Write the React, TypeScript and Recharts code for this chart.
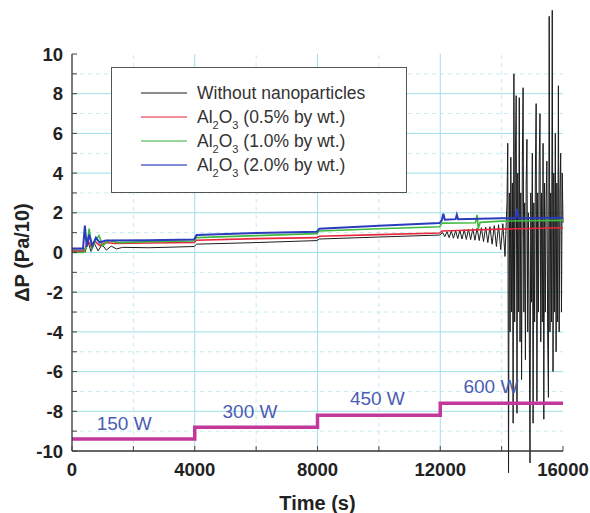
import { LineChart, Line, XAxis, YAxis, ReferenceLine, ReferenceDot, Legend } from "recharts";

const FONT = '"Liberation Sans", Arial, sans-serif';

// axis ticks
const xTicks = [0, 2000, 4000, 6000, 8000, 10000, 12000, 14000, 16000];
const yTicks = [-10, -9, -8, -7, -6, -5, -4, -3, -2, -1, 0, 1, 2, 3, 4, 5, 6, 7, 8, 9, 10];

const seriesNames = [
  "Without nanoparticles",
  "Al2O3 (0.5% by wt.)",
  "Al2O3 (1.0% by wt.)",
  "Al2O3 (2.0% by wt.)",
];

// without nanoparticles, steady part
const blackT = [
  0, 350, 430, 520, 620, 730, 850, 980, 1120, 1280, 1450, 1650, 2500, 3980, 4060, 6000, 7980, 8060, 10000, 11980,
  12080, 12150, 12220, 12290, 12360, 12430, 12500, 12570, 12640, 12710, 12780, 12850, 12920, 12990, 13060, 13130,
  13200, 13270, 13340, 13410, 13480, 13550, 13620, 13690, 13760, 13830, 13900, 13970, 14040, 14110, 14150,
];
const blackV = [
  0.12, 0.12, 0.02, 0.55, 0.05, 0.45, 0.08, 0.4, 0.12, 0.32, 0.18, 0.26, 0.24, 0.3, 0.42, 0.5, 0.6, 0.68, 0.78, 0.88,
  1.0, 0.8, 1.05, 0.75, 1.08, 0.72, 1.1, 0.7, 1.12, 0.68, 1.15, 0.66, 1.18, 0.65, 1.2, 0.62,
  1.22, 0.6, 1.25, 0.55, 1.28, 0.5, 1.3, 0.42, 1.35, 0.3, 1.4, 0.15, 1.45, -0.2, 1.5,
];
// without nanoparticles, unstable part
const blackTailT = [
  14175, 14200, 14225, 14250, 14275, 14300, 14325, 14350, 14375, 14400,
  14425, 14450, 14475, 14500, 14525, 14550, 14575, 14600, 14625, 14650,
  14675, 14700, 14725, 14750, 14775, 14800, 14825, 14850, 14875, 14900,
  14925, 14950, 14975, 15000, 15025, 15050, 15075, 15100, 15125, 15150,
  15175, 15200, 15225, 15250, 15275, 15300, 15325, 15350, 15375, 15400,
  15425, 15450, 15475, 15500, 15525, 15550, 15575, 15600, 15625, 15650,
  15675, 15700, 15725, 15750, 15775, 15800, 15825, 15850, 15875, 15900,
  15925, 15950, 15975, 16000,
];
const blackTailV = [
  2.5, 5.5, -11.1, 3.0, -4.0, 4.8, -3.0, 3.5, -8.6, 9.0,
  -3.5, 5.0, 7.9, -8.1, 4.0, -3.0, 7.8, -4.5, 3.0, -6.4,
  4.5, 8.3, -3.0, 2.5, -5.4, 3.5, 5.7, -4.0, 2.0, -3.5,
  -10.6, 3.0, -2.5, 5.0, -8.6, 2.5, -3.5, 4.0, 7.5, -7.5,
  3.0, -3.0, 4.5, 7.0, -4.5, 3.0, -3.5, 5.5, -8.4, 3.5,
  -3.0, 2.5, 4.6, -4.0, -7.3, 11.9, -4.0, 3.0, -3.5, 12.2,
  -6.0, 4.0, -3.0, 6.0, -5.0, 3.5, -3.5, 8.4, -4.0, 3.0,
  5.0, -3.0, 4.0, 1.5,
];

// 0.5 % by wt.
const redT = [0, 350, 430, 520, 640, 760, 900, 1100, 1400, 2500, 3980, 4060, 6000, 7980, 8060, 10000, 11980, 12060, 14000, 16000];
const redV = [0.05, 0.05, 0.2, 0.6, 0.25, 0.55, 0.35, 0.5, 0.45, 0.48, 0.5, 0.62, 0.7, 0.75, 0.82, 0.9, 0.98, 1.08, 1.18, 1.25];

// 1.0 % by wt.
const greenT = [0, 380, 480, 560, 650, 760, 880, 1000, 1200, 1500, 2500, 3980, 4060, 6000, 7980, 8060, 10000, 11980, 12060, 13150, 13200, 13240, 13300, 14000, 16000];
const greenV = [0.0, 0.0, 0.3, 1.2, 0.2, 0.6, 0.85, 0.35, 0.6, 0.5, 0.55, 0.58, 0.75, 0.85, 0.95, 1.08, 1.2, 1.3, 1.48, 1.5, 1.9, 1.2, 1.52, 1.58, 1.62];

// 2.0 % by wt.
const blueT = [0, 360, 420, 480, 560, 660, 780, 900, 1100, 2500, 3980, 4060, 6000, 7980, 8060, 10000, 11980, 12050, 12100, 12150, 12500, 12540, 12580, 14000, 14450, 14500, 14550, 16000];
const blueV = [0.2, 0.2, 1.35, 0.3, 0.9, 0.35, 0.75, 0.5, 0.6, 0.62, 0.65, 0.88, 0.98, 1.05, 1.2, 1.35, 1.48, 1.62, 1.95, 1.65, 1.68, 1.9, 1.68, 1.72, 1.72, 2.2, 1.72, 1.75];

// heater power steps
const powerT = [0, 4000, 8000, 12000, 16000];
const powerV = [-9.4, -8.8, -8.2, -7.6, -7.6];
const powerLabels = ["150 W", "300 W", "450 W", "600 W"];
const powerLabelT = [1700, 5800, 9950, 13650];
const powerLabelV = [-8.6, -8.0, -7.35, -6.75];

const majorY = [-8, -6, -4, -2, 0, 2, 4, 6, 8];
const minorY = [-9, -7, -5, -3, -1, 1, 3, 5, 7, 9];
const majorX = [4000, 8000, 12000];
const minorX = [2000, 6000, 10000, 14000];

const toData = (t: number[], v: number[]) => t.map((x, i) => ({ t: x, v: v[i] }));

const seriesData = [
  toData(blackT.concat(blackTailT), blackV.concat(blackTailV)),
  toData(redT, redV),
  toData(greenT, greenV),
  toData(blueT, blueV),
];
const seriesColors = ["#1c1c1c", "#e8283c", "#3dba3d", "#2b3bbd"];
const legendColors = ["#666", "#f06878", "#78c878", "#5a66c8"];
const seriesWidths = [1, 1.6, 1.6, 2];

function LeftTick({ x, y, payload }: any) {
  const ax = x + 9;
  const major = payload.value % 2 === 0;
  return (
    <g>
      <line x1={ax} x2={ax + 5} y1={y} y2={y} stroke="#444" />
      {major && (
        <text x={x} y={y} dy="0.36em" textAnchor="end" fontSize={18.5} fontWeight={700} fill="#222" fontFamily={FONT}>
          {payload.value}
        </text>
      )}
    </g>
  );
}

function RightTick({ x, y }: any) {
  return <line x1={x - 5} x2={x} y1={y} y2={y} stroke="#444" />;
}

function BottomTick({ x, y, payload }: any) {
  const ay = y - 12;
  const major = payload.value % 4000 === 0;
  return (
    <g>
      <line x1={x} x2={x} y1={ay} y2={ay - 5} stroke="#444" />
      {major && (
        <text x={x} y={y} dy="0.71em" textAnchor="middle" fontSize={18.5} fontWeight={700} fill="#222" fontFamily={FONT}>
          {payload.value}
        </text>
      )}
    </g>
  );
}

function renderName(name: string) {
  const parts = name.split("Al2O3");
  if (parts.length === 1) return name;
  const sub = { fontSize: 11, position: "relative" as const, top: 6, lineHeight: 0 };
  return (
    <>
      Al<span style={sub}>2</span>O<span style={sub}>3</span>
      {parts[1]}
    </>
  );
}

function LegendBox() {
  return (
    <div
      style={{
        width: 296,
        height: 126,
        border: "1px solid #555",
        background: "#fff",
        boxSizing: "border-box",
        paddingTop: 13,
        fontFamily: FONT,
        fontSize: 17.5,
        color: "#333",
      }}
    >
      {seriesNames.map((name, i) => (
        <div key={name} style={{ display: "flex", alignItems: "center", height: 24, whiteSpace: "nowrap" }}>
          <svg width={46} height={4} style={{ marginLeft: 29, marginRight: 10, display: "block" }}>
            <line x1={0} x2={46} y1={2} y2={2} stroke={legendColors[i]} strokeWidth={1.5} />
          </svg>
          <span>{renderName(name)}</span>
        </div>
      ))}
    </div>
  );
}

export default function App() {
  return (
    <div style={{ position: "absolute", left: 0, top: 0 }}>
      <style>{`.unclipped, .unclipped * { clip-path: none !important; }`}</style>
      <LineChart width={590} height={513} margin={{ top: 54, right: 27, bottom: 0, left: 0 }} style={{ fontFamily: FONT }}>
        <XAxis
          dataKey="t"
          type="number"
          domain={[0, 16000]}
          ticks={xTicks}
          interval={0}
          allowDataOverflow
          tickSize={0}
          tickMargin={12}
          height={62}
          axisLine={{ stroke: "#333", strokeWidth: 1.3 }}
          tick={<BottomTick />}
          label={{ value: "Time (s)", position: "insideBottom", offset: 3, style: { fontSize: 20, fontWeight: 700, fill: "#222" } }}
        />
        <XAxis xAxisId="top" orientation="top" type="number" domain={[0, 16000]} allowDataOverflow height={0} tick={false} tickLine={false} axisLine={{ stroke: "#333", strokeWidth: 1.3 }} />
        <YAxis
          type="number"
          domain={[-10, 10]}
          ticks={yTicks}
          interval={0}
          allowDataOverflow
          width={72}
          tickSize={0}
          tickMargin={9}
          axisLine={{ stroke: "#333", strokeWidth: 1.3 }}
          tick={<LeftTick />}
          label={{ value: "ΔP (Pa/10)", angle: -90, position: "insideLeft", offset: 22, style: { textAnchor: "middle", fontSize: 20, fontWeight: 700, fill: "#222" } }}
        />
        <YAxis
          yAxisId="right"
          orientation="right"
          type="number"
          domain={[-10, 10]}
          ticks={yTicks}
          interval={0}
          allowDataOverflow
          width={0}
          tickSize={0}
          tickMargin={0}
          axisLine={{ stroke: "#333", strokeWidth: 1.3 }}
          tick={<RightTick />}
        />

        {minorY.map((v) => (
          <ReferenceLine key={`my${v}`} y={v} stroke="#c4ecf1" strokeDasharray="4 4" />
        ))}
        {minorX.map((v) => (
          <ReferenceLine key={`mx${v}`} x={v} stroke="#c4ecf1" strokeDasharray="4 4" />
        ))}
        {majorY.map((v) => (
          <ReferenceLine key={`Y${v}`} y={v} stroke="#9edfe8" />
        ))}
        {majorX.map((v) => (
          <ReferenceLine key={`X${v}`} x={v} stroke="#9edfe8" />
        ))}

        {seriesData.map((d, i) => (
          <Line
            key={seriesNames[i]}
            data={d}
            dataKey="v"
            name={seriesNames[i]}
            type="linear"
            stroke={seriesColors[i]}
            strokeWidth={seriesWidths[i]}
            dot={false}
            activeDot={false}
            isAnimationActive={false}
            className={i === 0 ? "unclipped" : undefined}
          />
        ))}
        <Line
          data={toData(powerT, powerV)}
          dataKey="v"
          name="power"
          type="stepAfter"
          stroke="#c2399b"
          strokeWidth={3.5}
          dot={false}
          activeDot={false}
          legendType="none"
          isAnimationActive={false}
        />
        {powerLabels.map((lab, i) => (
          <ReferenceDot
            key={lab}
            x={powerLabelT[i]}
            y={powerLabelV[i]}
            r={0}
            stroke="none"
            fill="none"
            label={{ value: lab, position: "center", fill: "#4b5db3", fontSize: 19 }}
          />
        ))}

        <Legend
          layout="vertical"
          align="center"
          verticalAlign="middle"
          content={<LegendBox />}
          wrapperStyle={{ left: 111, top: 67, width: 296, height: 126 }}
        />
      </LineChart>
    </div>
  );
}
